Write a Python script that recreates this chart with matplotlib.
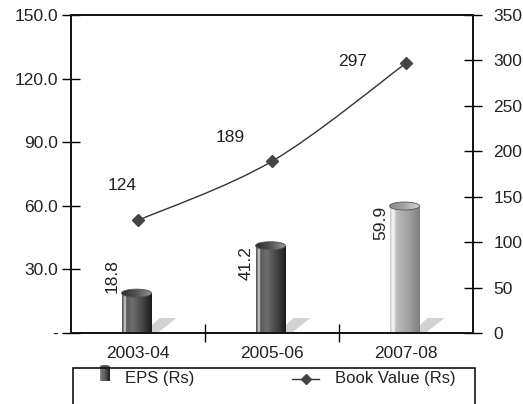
import numpy as np
import matplotlib
matplotlib.use("Agg")
import matplotlib.pyplot as plt
from matplotlib.patches import Rectangle, Ellipse, Polygon
from matplotlib.path import Path
from matplotlib.patches import PathPatch
from matplotlib.colors import LinearSegmentedColormap
from matplotlib.lines import Line2D

plt.rcParams['font.family'] = ['Liberation Sans', 'DejaVu Sans']

# ---- data ----
categories = ['2003-04', '2005-06', '2007-08']
eps = [18.8, 41.2, 59.9]
book_value = [124, 189, 297]
left_ticks = [0, 30, 60, 90, 120, 150]
left_labels = ['-', '30.0', '60.0', '90.0', '120.0', '150.0']
right_ticks = [0, 50, 100, 150, 200, 250, 300, 350]
eps_label = 'EPS (Rs)'
bv_label = 'Book Value (Rs)'

# styling
dark_body = LinearSegmentedColormap.from_list('db', [
    (0.0, '#4a4a4a'), (0.06, '#8a8a8a'), (0.10, '#e6e6e6'), (0.15, '#5a5a5a'),
    (0.35, '#6e6e6e'), (0.7, '#444444'), (1.0, '#1a1a1a')])
light_body = LinearSegmentedColormap.from_list('lb', [
    (0.0, '#c4c4c4'), (0.06, '#e8e8e8'), (0.12, '#fafafa'), (0.18, '#c8c8c8'),
    (0.25, '#b8b8b8'), (0.6, '#a4a4a4'), (1.0, '#7e7e7e')])
dark_top = LinearSegmentedColormap.from_list('dt', ['#2a2a2a', '#555555', '#9a9a9a'])
light_top = LinearSegmentedColormap.from_list('lt', ['#8a8a8a', '#a8a8a8', '#d6d6d6'])
body_maps = [dark_body, dark_body, light_body]
top_maps = [dark_top, dark_top, light_top]
bv_label_offsets = [(-16, 35), (-42, 24), (-53, 2)]  # label offsets in pixels

W, H, DPI = 523, 404, 100
fig = plt.figure(figsize=(W / DPI, H / DPI), dpi=DPI)
ax_l, ax_r, ax_b, ax_t = 71, 473, 333, 15
ax = fig.add_axes([ax_l / W, 1 - ax_b / H, (ax_r - ax_l) / W, (ax_b - ax_t) / H])
ax2 = ax.twinx()

x = np.arange(len(categories))
ymax_l, ymax_r = 150, 350
ax.set_xlim(-0.5, len(categories) - 0.5)
ax.set_ylim(0, ymax_l)
ax2.set_ylim(0, ymax_r)

# pixel -> data unit conversions
px_x = (len(categories)) / (ax_r - ax_l)
px_y = ymax_l / (ax_b - ax_t)

bar_w = 30 * px_x
ell_h = 8 * px_y
grad = np.linspace(0, 1, 256).reshape(1, -1)

for i, (xi, v) in enumerate(zip(x, eps)):
    c = xi - 1.5 * px_x
    x0, x1 = c - bar_w / 2, c + bar_w / 2
    # shadow
    sh = Polygon([(x1 - 8 * px_x, 0), (x1 + 6 * px_x, 0), (x1 + 25 * px_x, 15 * px_y),
                  (x1 + 8 * px_x, 15 * px_y)], closed=True, facecolor='#d2d2d2',
                 edgecolor='none', zorder=1)
    ax.add_patch(sh)
    # body
    rect = Rectangle((x0, 0), bar_w, v, facecolor='none', edgecolor='none', zorder=2)
    ax.add_patch(rect)
    im = ax.imshow(grad, extent=[x0, x1, 0, v], aspect='auto', cmap=body_maps[i],
                   interpolation='bilinear', zorder=2)
    im.set_clip_path(rect)
    # top
    ell = Ellipse((c, v), bar_w, ell_h, facecolor='none', edgecolor='#555555',
                  lw=0.6, zorder=4)
    ax.add_patch(ell)
    im2 = ax.imshow(grad, extent=[x0, x1, v - ell_h / 2, v + ell_h / 2], aspect='auto',
                    cmap=top_maps[i], interpolation='bilinear', zorder=3)
    im2.set_clip_path(ell)
    # label (rotated): inside end if it fits, else above the bar
    lab = f'{v:.1f}'
    lab_len = 45 * px_y
    if v > lab_len:
        ax.text(c - 24 * px_x, v, lab, rotation=90, ha='center', va='top',
                fontsize=12.5, color='#222222', zorder=5)
    else:
        ax.text(c - 24 * px_x, v, lab, rotation=90, ha='center', va='bottom',
                fontsize=12.5, color='#222222', zorder=5)

# smoothed line (cubic Bezier through points)
pts = np.column_stack([x, book_value]).astype(float)
n = len(pts)
verts = [tuple(pts[0])]
codes = [Path.MOVETO]
for i in range(n - 1):
    p_prev = pts[i - 1] if i > 0 else pts[i]
    p_next2 = pts[i + 2] if i + 2 < n else pts[i + 1]
    c1 = pts[i] + (pts[i + 1] - p_prev) / 6
    c2 = pts[i + 1] - (p_next2 - pts[i]) / 6
    verts += [tuple(c1), tuple(c2), tuple(pts[i + 1])]
    codes += [Path.CURVE4] * 3
ax2.add_patch(PathPatch(Path(verts, codes), facecolor='none', edgecolor='#333333',
                        lw=1.0, zorder=3))
ax2.plot(x, book_value, linestyle='none', marker='D', markersize=6.5,
         color='#444444', zorder=4)
for xi, v, off in zip(x, book_value, bv_label_offsets):
    ax2.annotate(str(v), (xi, v), xytext=off, textcoords='offset pixels',
                 ha='center', va='center', fontsize=12.5, color='#222222')

# axes styling
ax.set_xticks([0.5, 1.5])
ax.set_xticklabels([])
ax.set_xticks(x, minor=True)
ax.set_xticklabels(categories, minor=True, fontsize=12.5, color='#222222')
ax.tick_params(axis='x', which='major', direction='inout', length=13, width=1)
ax.tick_params(axis='x', which='minor', length=0, pad=9)
ax.set_yticks(left_ticks)
ax.set_yticklabels(left_labels, fontsize=12.5, color='#222222')
ax.tick_params(axis='y', direction='inout', length=13, width=1, pad=3)
ax2.set_yticks(right_ticks)
ax2.set_yticklabels([str(t) for t in right_ticks], fontsize=12.5, color='#222222')
ax2.tick_params(axis='y', direction='inout', length=13, width=1, pad=8)
for a in (ax, ax2):
    for s in a.spines.values():
        s.set_linewidth(1.2)
        s.set_color('#111111')
ax2.set_xlim(-0.5, len(categories) - 0.5)

# legend box (manual)
fig.add_artist(Rectangle((73 / W, -0.05), (475 - 73) / W, 0.05 + (H - 368) / H,
                         transform=fig.transFigure, fill=False, edgecolor='#111111',
                         lw=1.2))
icon_ax = fig.add_axes([100 / W, 1 - 381 / H, 10 / W, 16 / H])
icon_ax.set_xlim(0, 1)
icon_ax.set_ylim(0, 1)
icon_ax.axis('off')
irect = Rectangle((0, 0), 1, 0.9, facecolor='none', edgecolor='none')
icon_ax.add_patch(irect)
ii = icon_ax.imshow(grad, extent=[0, 1, 0, 0.9], aspect='auto', cmap=dark_body,
                    interpolation='bilinear')
ii.set_clip_path(irect)
icon_ax.add_patch(Ellipse((0.5, 0.9), 1, 0.2, facecolor='#555555', edgecolor='none'))
icon_ax.set_xlim(0, 1)
icon_ax.set_ylim(0, 1)
fig.text(125 / W, 1 - 379 / H, eps_label, ha='left', va='center', fontsize=12,
         color='#222222')
fig.add_artist(Line2D([292 / W, 319 / W], [1 - 379 / H, 1 - 379 / H],
                      transform=fig.transFigure, color='#333333', lw=1))
fig.add_artist(Line2D([305.5 / W], [1 - 379 / H], transform=fig.transFigure,
                      marker='D', markersize=5, color='#444444', linestyle='none'))
fig.text(335 / W, 1 - 379 / H, bv_label, ha='left', va='center', fontsize=12,
         color='#222222')

fig.savefig('out.png', dpi=DPI)
